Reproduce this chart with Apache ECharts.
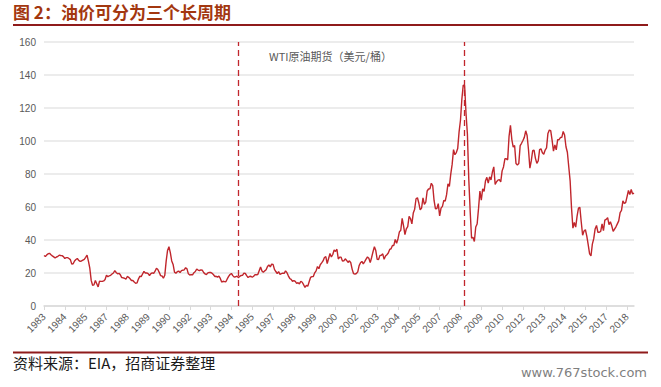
<!DOCTYPE html>
<html>
<head>
<meta charset="utf-8">
<script src="https://cdn.jsdelivr.net/npm/echarts@6/dist/echarts.min.js"></script>
<style>
html,body{margin:0;padding:0;background:#fff;}
#chart{width:661px;height:387px;}
</style>
</head>
<body>
<div id="chart"></div>
<script>
// WTI monthly prices (USD/bbl), starting 1983-04
const startYear = 1983;
const startMonth = 4;
const wti1983 = [30.6, 30.0, 31.0, 31.7, 31.9, 31.1, 30.4, 29.8, 29.2];
const wti1984 = [29.7, 30.1, 30.8, 30.6, 30.5, 29.9, 28.8, 29.3, 29.3, 28.8, 28.1, 25.4];
const wti1985 = [25.6, 27.3, 28.2, 28.8, 27.6, 27.1, 27.3, 27.8, 28.3, 29.5, 30.8, 27.2];
const wti1986 = [22.9, 15.5, 12.6, 12.8, 15.4, 13.5, 11.6, 15.1, 14.9, 14.9, 15.2, 16.1];
const wti1987 = [18.7, 17.7, 18.3, 18.6, 19.4, 20.0, 21.4, 20.3, 19.5, 19.8, 18.9, 17.2];
const wti1988 = [17.1, 16.8, 16.2, 17.9, 17.4, 16.5, 15.5, 15.5, 14.5, 13.8, 14.0, 16.3];
const wti1989 = [18.0, 17.8, 19.4, 21.0, 20.0, 20.0, 19.6, 18.5, 19.6, 20.1, 19.8, 21.1];
const wti1990 = [22.9, 22.1, 20.4, 18.4, 18.2, 16.9, 18.6, 27.2, 33.7, 35.9, 32.3, 27.3];
const wti1991 = [25.2, 20.5, 19.9, 20.8, 21.2, 20.2, 21.4, 21.7, 21.9, 23.2, 22.5, 19.5];
const wti1992 = [18.8, 19.0, 18.9, 20.2, 20.9, 22.4, 21.8, 21.4, 21.9, 21.7, 20.3, 19.4];
const wti1993 = [19.0, 20.1, 20.3, 20.3, 19.9, 19.1, 17.9, 18.0, 17.5, 18.1, 16.7, 14.5];
const wti1994 = [15.0, 14.8, 14.7, 16.4, 17.9, 19.1, 19.7, 18.4, 17.5, 17.7, 18.1, 17.2];
const wti1995 = [18.0, 18.5, 18.6, 19.9, 19.7, 18.4, 17.3, 17.9, 18.0, 17.4, 18.0, 19.0];
const wti1996 = [18.9, 19.1, 21.4, 23.6, 21.2, 20.4, 21.3, 22.0, 24.0, 24.9, 23.7, 25.4];
const wti1997 = [25.2, 22.2, 20.9, 19.7, 20.8, 19.2, 19.6, 19.9, 19.8, 21.3, 20.2, 18.3];
const wti1998 = [16.7, 16.1, 15.0, 15.4, 14.9, 13.7, 14.1, 13.4, 15.0, 14.4, 12.9, 11.3];
const wti1999 = [12.5, 12.0, 14.7, 17.3, 17.8, 17.9, 20.1, 21.3, 23.9, 22.6, 25.0, 26.1];
const wti2000 = [27.3, 29.4, 29.9, 25.7, 28.8, 31.8, 29.7, 31.2, 33.9, 33.1, 34.4, 28.5];
const wti2001 = [29.6, 29.6, 27.2, 27.4, 28.6, 27.6, 26.4, 27.4, 26.2, 22.2, 19.6, 19.3];
const wti2002 = [19.7, 20.7, 24.5, 26.2, 27.0, 25.5, 26.9, 28.4, 29.7, 28.9, 26.3, 29.4];
const wti2003 = [32.9, 35.9, 33.6, 28.3, 28.1, 30.7, 30.8, 31.6, 28.3, 30.3, 31.1, 32.1];
const wti2004 = [34.3, 34.7, 36.7, 36.7, 40.3, 38.0, 40.8, 44.9, 45.9, 53.1, 48.5, 43.3];
const wti2005 = [46.8, 48.1, 54.3, 53.0, 49.8, 56.3, 58.7, 65.0, 65.6, 62.4, 58.3, 59.4];
const wti2006 = [65.5, 61.6, 62.9, 69.7, 70.9, 71.0, 74.4, 73.0, 63.8, 58.9, 59.1, 62.0];
const wti2007 = [54.6, 59.3, 60.4, 64.0, 63.5, 67.5, 74.1, 72.4, 79.9, 85.8, 94.8, 91.7];
const wti2008 = [93.0, 95.4, 105.5, 112.6, 125.4, 133.9, 133.4, 116.7, 104.1, 76.6, 57.3, 41.1];
const wti2009 = [41.7, 39.1, 47.9, 49.7, 59.0, 69.6, 64.1, 71.0, 69.4, 75.7, 78.0, 74.5];
const wti2010 = [78.3, 76.4, 81.2, 84.3, 73.7, 75.3, 76.3, 76.6, 75.2, 81.9, 84.3, 89.2];
const wti2011 = [89.2, 88.6, 102.9, 109.5, 100.9, 96.3, 97.3, 86.3, 85.5, 86.3, 97.2, 98.6];
const wti2012 = [100.3, 102.2, 106.2, 103.3, 94.7, 83.5, 87.9, 94.1, 94.5, 89.5, 86.5, 87.9];
const wti2013 = [94.8, 95.3, 92.9, 92.0, 94.5, 95.8, 104.6, 106.6, 106.3, 100.5, 93.9, 97.6];
const wti2014 = [94.6, 100.8, 100.8, 102.1, 102.2, 105.8, 103.6, 96.5, 93.2, 84.4, 75.8, 59.3];
const wti2015 = [47.2, 50.6, 47.8, 54.5, 59.3, 59.8, 50.9, 42.9, 45.5, 46.2, 42.4, 37.2];
const wti2016 = [31.7, 30.3, 37.5, 40.8, 46.7, 48.8, 44.7, 44.7, 45.2, 49.8, 45.7, 52.0];
const wti2017 = [52.5, 53.5, 49.3, 51.1, 48.5, 45.2, 46.6, 48.0, 49.8, 51.6, 56.6, 57.9];
const wti2018 = [63.7, 62.2, 62.7, 66.3, 70.0, 67.6, 70.6, 67.9, 68.5];

const cycleBreaks = ['1994-12', '2008-07'];
const seriesName = 'WTI原油期货（美元/桶）';
const chartTitle = '图 2：油价可分为三个长周期';
const sourceNote = '资料来源：EIA，招商证券整理';
const watermark = 'www.767stock.com';

const wtiPrice = [].concat(wti1983, wti1984, wti1985, wti1986, wti1987, wti1988, wti1989,
  wti1990, wti1991, wti1992, wti1993, wti1994, wti1995, wti1996, wti1997, wti1998, wti1999,
  wti2000, wti2001, wti2002, wti2003, wti2004, wti2005, wti2006, wti2007, wti2008, wti2009,
  wti2010, wti2011, wti2012, wti2013, wti2014, wti2015, wti2016, wti2017, wti2018);

const months = wtiPrice.map(function (v, i) {
  const m = startMonth - 1 + i;
  const y = startYear + Math.floor(m / 12);
  const mm = (m % 12) + 1;
  return y + '-' + (mm < 10 ? '0' + mm : mm);
});

const chart = echarts.init(document.getElementById('chart'), null, {renderer: 'svg'});
const redLine = '#c0262c';
const ruleColor = '#8f1b1b';
chart.setOption({
  animation: false,
  backgroundColor: '#ffffff',
  grid: {left: 44, right: 27, top: 42, bottom: 81},
  xAxis: {
    type: 'category',
    data: months,
    boundaryGap: false,
    axisLine: {lineStyle: {color: '#d9d9d9', width: 1.5}},
    axisTick: {show: true, interval: 14, length: 4, lineStyle: {color: '#d9d9d9'}},
    axisLabel: {
      interval: 14, rotate: 45, margin: 9,
      color: '#595959', fontSize: 10, fontFamily: 'Liberation Sans',
      formatter: function (v) { return v.slice(0, 4); }
    },
    splitLine: {show: false}
  },
  yAxis: {
    type: 'value',
    min: 0, max: 160, interval: 20,
    axisLine: {show: false},
    axisTick: {show: false},
    axisLabel: {color: '#595959', fontSize: 10, fontFamily: 'Liberation Sans', margin: 8},
    splitLine: {lineStyle: {color: '#e6e6e6', width: 1.5}}
  },
  series: [{
    name: seriesName,
    type: 'line',
    data: wtiPrice,
    showSymbol: false,
    symbol: 'none',
    lineStyle: {color: redLine, width: 1.4},
    markLine: {
      silent: true,
      symbol: ['none', 'none'],
      label: {show: false},
      lineStyle: {color: redLine, type: [6, 4], width: 1.3},
      data: cycleBreaks.map(function (c) { return {xAxis: c}; })
    }
  }],
  graphic: [
    {type: 'text', left: 13, top: 3, style: {text: chartTitle, fill: '#a3370f', font: 'bold 17px "Noto Sans CJK SC"'}},
    {type: 'line', shape: {x1: 13, y1: 25, x2: 648, y2: 25}, style: {stroke: ruleColor, lineWidth: 2}},
    {type: 'text', left: 'center', top: 50, style: {text: seriesName, fill: '#595959', font: '11px "Noto Sans CJK SC"'}},
    {type: 'line', shape: {x1: 13, y1: 352.5, x2: 648, y2: 352.5}, style: {stroke: ruleColor, lineWidth: 2}},
    {type: 'text', left: 13, top: 355, style: {text: sourceNote, fill: '#1a1a1a', font: '15px "Noto Sans CJK SC"'}},
    {type: 'text', right: 14, top: 366, style: {text: watermark, fill: '#7f7f7f', font: '13px "DejaVu Sans"'}}
  ]
});
</script>
</body>
</html>
